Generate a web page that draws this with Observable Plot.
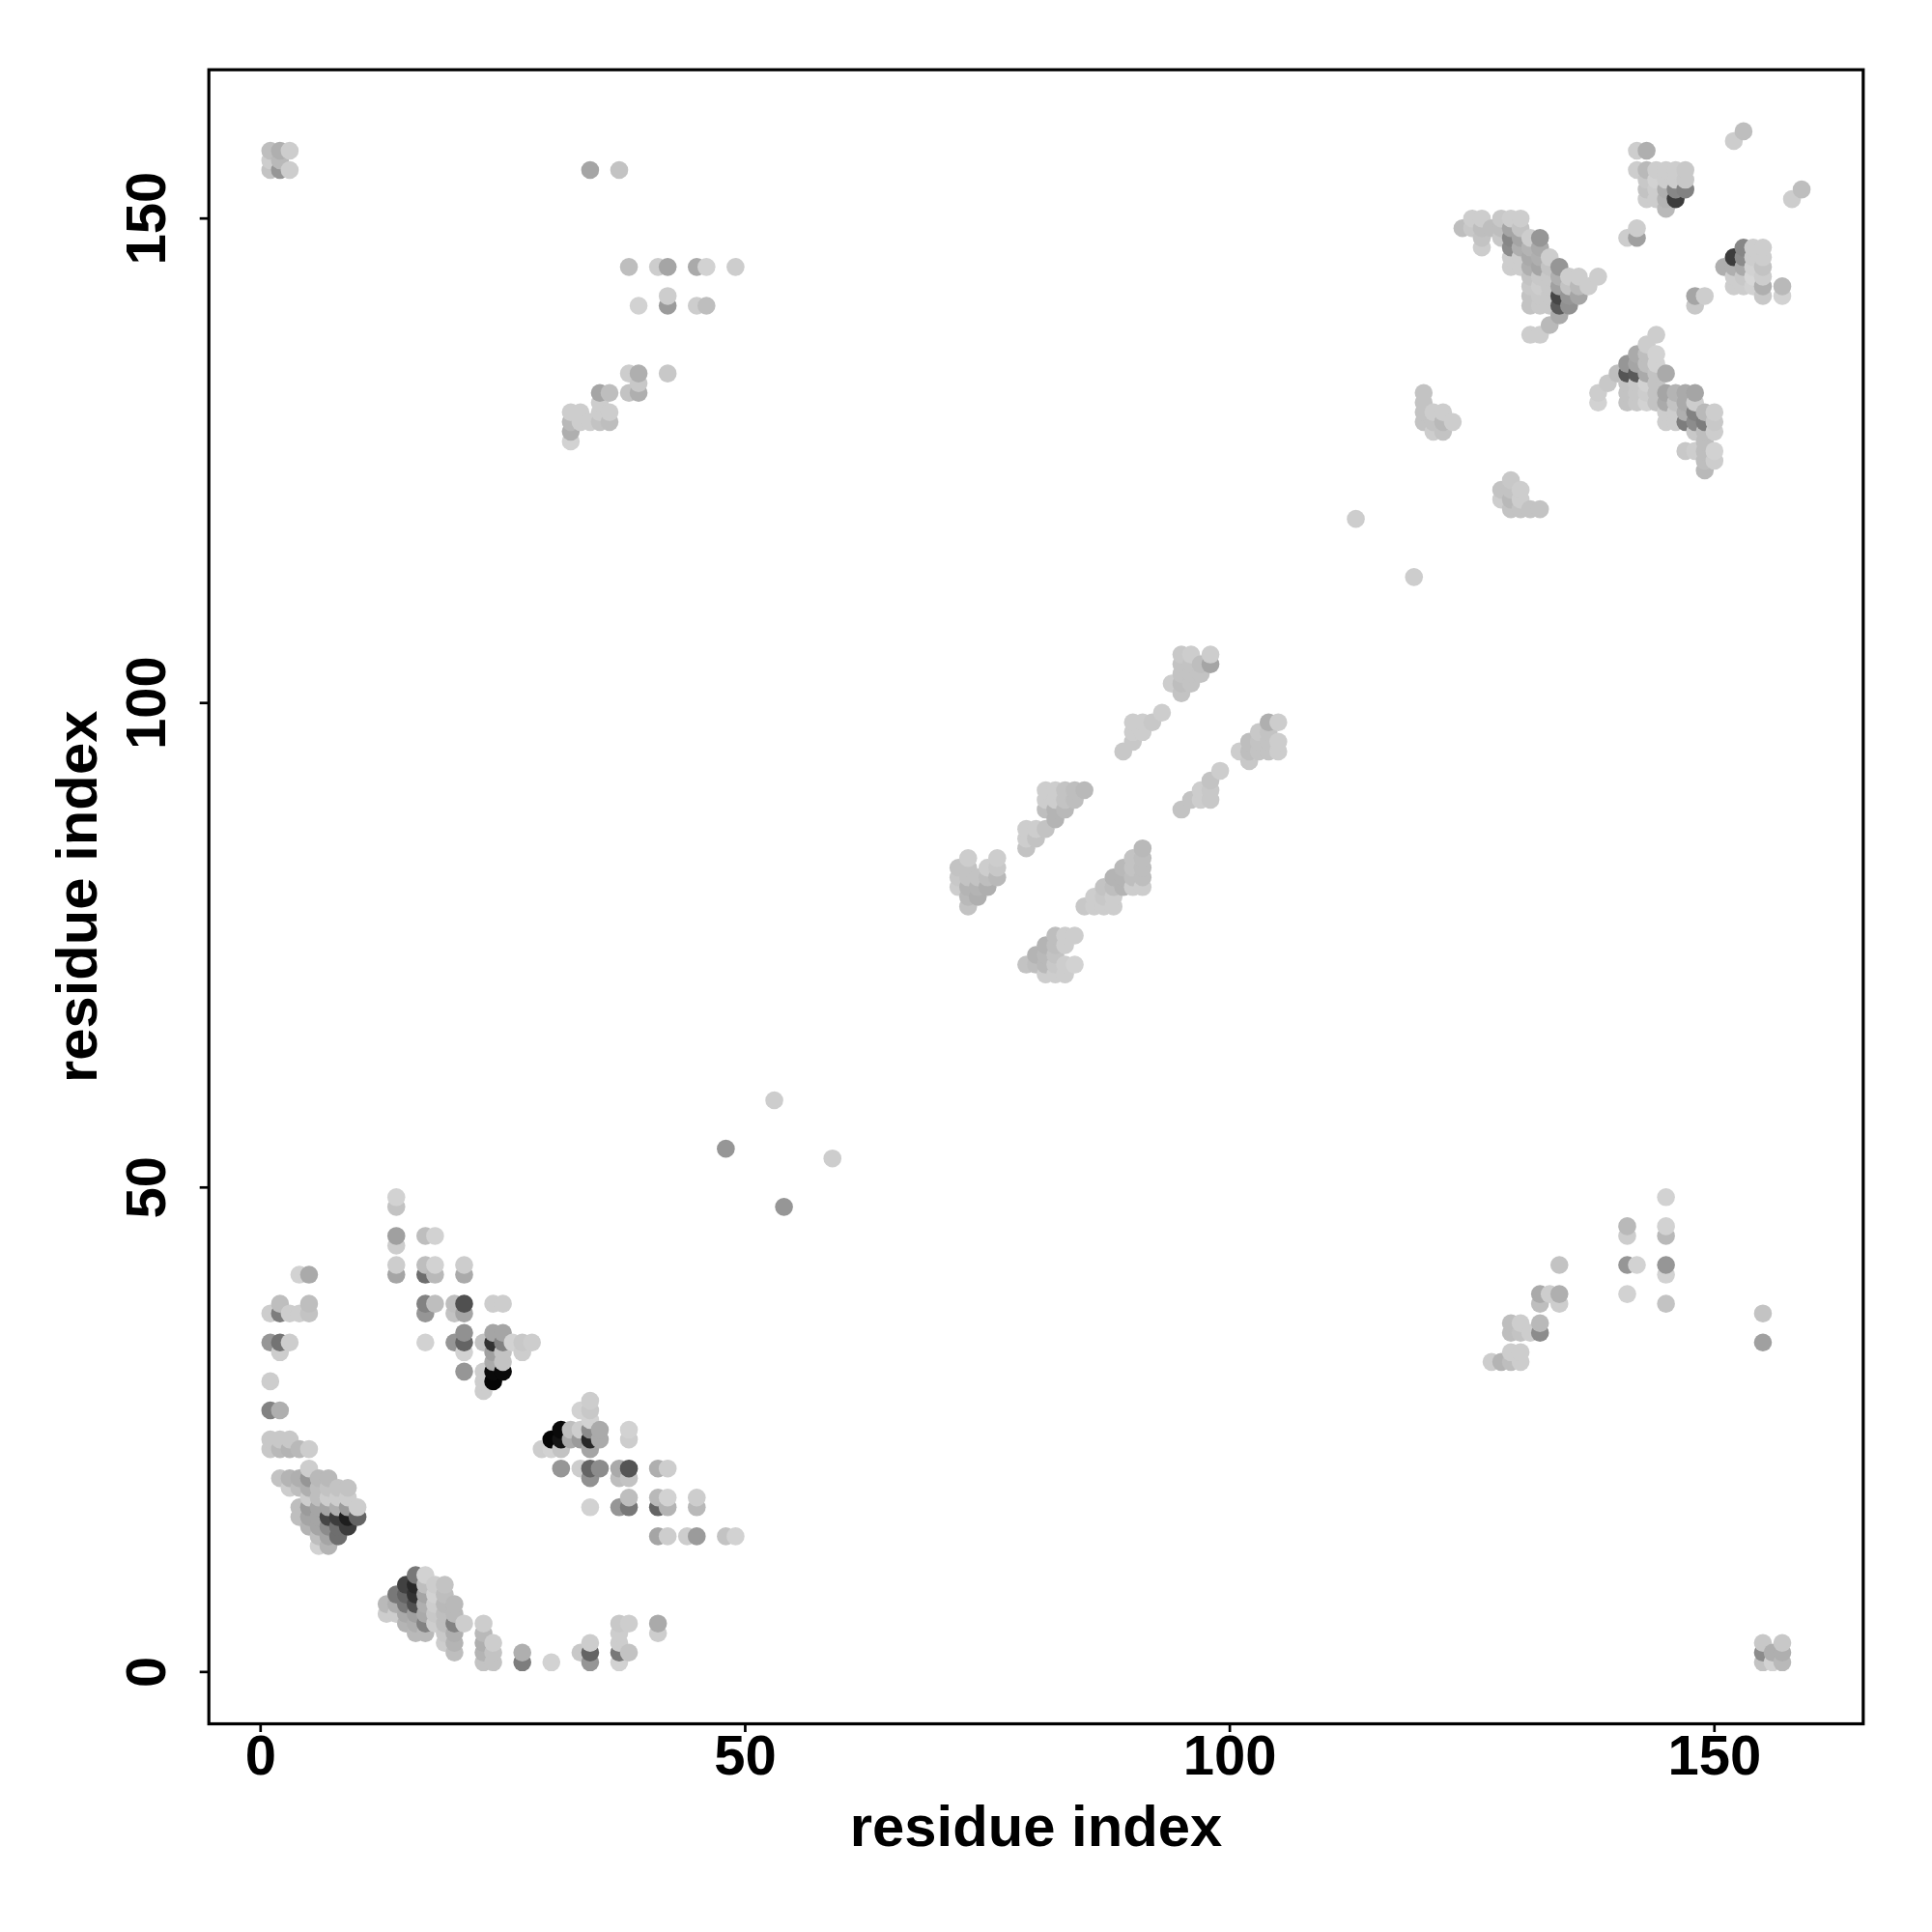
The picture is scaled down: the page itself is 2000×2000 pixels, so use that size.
<!DOCTYPE html>
<html><head><meta charset="utf-8">
<style>html,body{margin:0;padding:0;background:#fff}svg{display:block}</style>
<script src="https://cdn.jsdelivr.net/npm/d3@7"></script>
<script src="https://cdn.jsdelivr.net/npm/@observablehq/plot@0.6"></script>
</head><body>
<script>
// each triple: residue i, residue j, grey level
const cornerTL=[[1,157,190],[2,157,175],[3,157,205],[1,156,205],[2,156,185],[1,155,195],[2,155,150],[3,155,205]];
const leftArc=[[14,49,210],[14,48,195],[4,41,210],[5,41,170],[2,38,190],[5,38,190],[1,37,205],[2,37,125],[3,37,205],[4,37,205],[5,37,195],
[1,34,150],[2,34,115],[3,34,205],[2,33,205],[1,30,205],[1,27,130],[2,27,175],[1,24,200],[2,24,200],[3,24,200],
[1,23,200],[2,23,185],[3,23,180],[4,23,185],[5,23,205],[5,21,205],
[2,20,195],[3,20,180],[4,20,175],[5,20,150],[6,20,185],[7,20,185],
[3,19,205],[4,19,190],[5,19,175],[6,19,190],[7,19,195],[8,19,195],[9,19,195],
[5,18,205],[6,18,190],[7,18,205],[8,18,205],[9,18,205],
[4,17,190],[5,17,155],[6,17,165],[7,17,165],[8,17,175],[9,17,155],[10,17,205],
[4,16,190],[5,16,165],[6,16,165],[7,16,70],[8,16,60],[9,16,30],[10,16,100],
[5,15,180],[6,15,165],[7,15,140],[8,15,110],[9,15,60],[6,14,190],[7,14,165],[8,14,110],[6,13,210],[7,13,180]];
const upperBlock=[[14,45,160],[17,45,190],[18,45,210],[14,44,205],[14,42,205],[17,42,190],[18,42,210],[21,42,205],
[14,41,165],[17,41,110],[18,41,185],[21,41,170],
[17,38,130],[18,38,190],[20,38,190],[21,38,80],[24,38,205],[25,38,205],[17,37,150],[20,37,195],[21,37,165],
[17,34,210],[20,34,150],[21,35,145],[21,34,100],[24,35,165],[25,35,165],[23,34,195],[24,34,50],[25,34,130],[26,34,210],[27,34,200],[28,34,205],
[21,33,210],[24,33,160],[25,33,195],[27,33,205],[24,32,170],[25,32,195],[21,31,150],[23,31,205],[24,31,10],[25,31,10],[23,30,205],[24,30,5],[23,29,205]];
const midBlock=[[34,28,205],[33,27,210],[34,27,200],[34,26,210],
[31,25,10],[32,25,190],[33,25,205],[34,25,140],[35,25,170],[38,25,210],
[30,24,5],[31,24,20],[32,24,170],[33,24,155],[34,24,40],[35,24,170],[38,24,205],
[29,23,205],[30,23,210],[31,23,195],[34,23,165],
[31,21,150],[33,21,205],[34,21,100],[35,21,140],[37,21,170],[38,21,85],[41,21,175],[42,21,205],
[34,20,145],[37,20,190],[38,20,195],[38,18,190],[41,18,185],[42,18,210],[45,18,205],
[34,17,210],[37,17,150],[38,17,120],[41,17,100],[42,17,180],[45,17,185],
[41,14,165],[42,14,205],[44,14,205],[45,14,155],[48,14,195],[49,14,210]];
const lowerBlock=[[16,10,120],[17,10,210],[15,9,65],[16,9,40],[17,9,190],[18,9,205],[19,9,195],
[14,8,120],[15,8,100],[16,8,50],[17,8,165],[18,8,210],[19,8,190],
[13,7,185],[14,7,175],[15,7,120],[16,7,80],[17,7,175],[18,7,205],[19,7,185],[20,7,185],
[13,6,205],[14,6,205],[15,6,170],[16,6,160],[17,6,170],[18,6,200],[19,6,190],[20,6,185],
[15,5,180],[16,5,175],[17,5,130],[18,5,205],[19,5,190],[20,5,130],[21,5,205],[23,5,205],
[16,4,185],[17,4,185],[19,4,200],[20,4,175],[23,4,185],[19,3,205],[20,3,180],[23,3,175],[24,3,205],
[20,2,190],[23,2,180],[24,2,195],[23,1,195],[24,1,195],
[27,2,175],[27,1,125],[30,1,210],[33,2,200],[34,3,205],[34,2,100],[34,1,150],
[37,5,200],[38,5,205],[37,4,205],[37,3,205],[37,2,120],[38,2,195],[37,1,210],[41,5,170],[41,4,205]];
const isolated=[[48,54,150],[53,59,205],[54,48,150],[59,53,205],[113,119,205],[119,113,205]];
const topMiddle=[[34,155,165],[37,155,195],[38,145,190],[41,145,205],[42,145,165],[45,145,170],[46,145,210],[49,145,205],
[42,142,205],[39,141,210],[42,141,155],[45,141,205],[46,141,190],[38,134,205],[39,134,175],[42,134,200],[39,133,200],
[38,132,195],[39,132,175],[35,132,165],[36,132,190],[35,131,205],[32,130,205],[33,130,205],[35,130,205],[36,130,205],
[32,129,185],[33,129,205],[34,129,205],[35,129,195],[36,129,190],[32,128,175],[32,127,210]];
const topRight=[[153,159,190],[152,158,205],[142,157,205],[143,157,175],
[142,155,205],[143,155,185],[144,155,205],[145,155,205],[146,155,205],[147,155,200],
[143,154,200],[144,154,210],[145,154,205],[146,154,205],[147,154,200],
[143,153,195],[144,153,205],[145,153,175],[146,153,135],[147,153,130],[159,153,190],
[143,152,205],[144,152,205],[145,152,180],[146,152,60],[158,152,205],[145,151,185],
[125,150,205],[126,150,205],[128,150,200],[129,150,205],[130,150,205],
[124,149,190],[125,149,200],[126,149,190],[127,149,190],[128,149,190],[129,149,165],[130,149,195],[142,149,205],
[126,148,195],[128,148,200],[129,148,135],[130,148,165],[131,148,205],[132,148,150],[141,148,205],[142,148,160],
[126,147,205],[129,147,140],[130,147,175],[131,147,180],[132,147,170],
[129,146,205],[130,146,205],[131,146,170],[132,146,175],[133,146,205],
[129,145,205],[130,145,205],[131,145,175],[132,145,165],[133,145,195],[134,145,150],
[131,144,195],[132,144,200],[133,144,200],[134,144,175],[135,144,205],[136,144,205],[138,144,205],
[131,143,200],[132,143,205],[133,143,200],[134,143,160],[135,143,195],[136,143,185],[137,143,205],
[131,142,195],[132,142,200],[133,142,200],[134,142,70],[135,142,150],[136,142,165],
[131,141,195],[132,141,200],[133,141,200],[134,141,90],[135,141,145],[134,140,170],[133,139,185],[131,138,205],[132,138,205],
[148,142,165],[149,142,205],[148,141,200],
[153,147,135],[154,147,205],[155,147,205],[152,146,60],[153,146,140],[154,146,205],[155,146,205],
[151,145,175],[152,145,175],[153,145,170],[154,145,210],[155,145,195],
[152,144,205],[153,144,200],[154,144,215],[155,144,205],[152,143,205],[153,143,205],[154,143,210],[155,143,175],[157,143,185],[155,142,200],[157,142,210]];
const crossArm=[[144,138,205],[143,137,205],[142,136,170],[143,136,190],[144,136,210],[141,135,150],[142,135,165],[143,135,190],[144,135,210],
[140,134,190],[141,134,85],[142,134,90],[143,134,170],[144,134,195],[145,134,170],
[139,133,200],[141,133,195],[142,133,200],[143,133,210],[144,133,195],
[138,132,205],[141,132,195],[142,132,200],[143,132,205],[144,132,195],[145,132,165],[146,132,180],[147,132,170],[148,132,165],
[138,131,210],[141,131,195],[142,131,200],[143,131,210],[144,131,195],[145,131,170],[146,131,195],[147,131,170],[148,131,205],
[145,130,205],[146,130,205],[147,130,175],[148,130,130],[149,130,185],[150,130,205],
[145,129,205],[146,129,205],[147,129,125],[148,129,140],[149,129,125],[150,129,200],
[148,128,200],[149,128,190],[150,128,205],[149,127,190],[147,126,200],[148,126,205],[149,126,190],[150,126,210],[149,125,190],[150,125,205],[149,124,185]];
const smallClusters=[[120,132,195],[120,131,195],[120,130,195],[121,130,205],[122,130,205],[120,129,195],[121,129,195],[122,129,185],[123,129,205],[121,128,205],[122,128,195],
[129,123,200],[128,122,195],[129,122,195],[130,122,205],[128,121,205],[129,121,185],[130,121,205],[129,120,195],[130,120,195],[131,120,195],[132,120,195]];
const strandA=[[73,84,205],[76,84,205],[72,83,195],[73,83,195],[75,83,205],[76,83,200],[72,82,200],[73,82,195],[74,82,195],[75,82,190],[76,82,185],
[72,81,205],[73,81,180],[74,81,180],[75,81,175],[73,80,185],[74,80,175],[73,79,195],
[81,91,205],[82,91,205],[83,91,195],[84,91,190],[85,91,185],[81,90,205],[82,90,205],[83,90,195],[84,90,190],[81,89,190],[82,89,180],[83,89,185],[82,88,180],
[79,87,205],[80,87,205],[81,87,195],[79,86,205],[80,86,195],[79,85,195],
[95,105,200],[96,105,205],[98,105,205],[95,104,195],[96,104,195],[97,104,190],[98,104,165],[95,103,195],[96,103,195],[97,103,195],[94,102,205],[95,102,190],[96,102,195],[95,101,195],
[93,99,205],[90,98,205],[91,98,205],[92,98,200],[90,97,205],[91,97,205],[90,96,200],[89,95,200]];
const strandB=[[91,85,185],[90,84,195],[91,84,190],[89,83,185],[90,83,195],[91,83,190],[88,82,180],[89,82,180],[90,82,190],[91,82,190],
[87,81,195],[88,81,190],[89,81,180],[90,81,205],[91,81,205],[86,80,205],[87,80,200],[88,80,205],[85,79,200],[86,79,205],[87,79,205],[88,79,205],
[82,76,190],[83,76,205],[84,76,205],[81,75,180],[82,75,190],[83,75,205],[80,74,180],[81,74,185],[82,74,195],
[79,73,195],[80,73,190],[81,73,185],[82,73,200],[83,73,205],[84,73,210],[81,72,205],[82,72,205],[83,72,205],
[99,93,205],[98,92,195],[97,91,205],[98,91,200],[96,90,195],[97,90,205],[98,90,200],[95,89,195],
[104,98,175],[105,98,205],[103,97,200],[104,97,195],[102,96,190],[103,96,195],[104,96,195],[105,96,205],[101,95,205],[102,95,190],[103,95,195],[104,95,195],[105,95,205],[102,94,200]];
const bottomRight=[[145,49,210],[141,46,185],[145,46,210],[141,45,205],[145,45,185],[141,42,150],[142,42,210],[145,42,150],[134,42,195],[145,41,210],[141,39,210],[145,38,195],
[132,39,170],[133,39,205],[134,39,175],[132,38,190],[134,38,205],[129,36,190],[130,36,205],[132,36,185],[129,35,190],[130,35,195],[131,35,205],[132,35,140],
[129,33,205],[130,33,205],[127,32,205],[128,32,180],[129,32,190],[130,32,205],[155,37,195],[155,34,160],
[155,3,200],[157,3,200],[155,2,140],[156,2,175],[157,2,175],[155,1,195],[156,1,210],[157,1,185]];

const contacts=d3.sort(
  [cornerTL,leftArc,upperBlock,midBlock,lowerBlock,isolated,topMiddle,topRight,crossArm,smallClusters,strandA,strandB,bottomRight].flat()
    .map(([i,j,level])=>({i,j,level})),
  d=>d.i,d=>d.j);
const tickValues=[0,50,100,150];
const axisTitle="residue index";

const chart=Plot.plot({
  width:2000,height:2000,
  marginLeft:215.7,marginRight:71.7,marginTop:71.7,marginBottom:216,
  style:{fontFamily:"'Liberation Sans',Arial,sans-serif",fontWeight:"bold",background:"#fff",color:"#000"},
  x:{domain:[-5.34,165.35]},
  y:{domain:[-5.35,165.35]},
  color:{type:"linear",domain:[0,255],range:["#000","#fff"]},
  marks:[
    Plot.dot(contacts,{x:"i",y:"j",fill:"level",r:9.3,stroke:"none"}),
    Plot.frame({stroke:"#000",strokeWidth:3.2}),
    Plot.axisX({ticks:tickValues,tickSize:9,tickPadding:2,strokeWidth:2.7,fontSize:58,label:null}),
    Plot.axisY({ticks:tickValues,tickSize:9,tickPadding:36,strokeWidth:2.7,fontSize:58,tickRotate:-90,label:null}),
    Plot.text([axisTitle],{text:d=>d,frameAnchor:"bottom",dy:126,fontSize:59.8,fontWeight:"bold"}),
    Plot.text([axisTitle],{text:d=>d,frameAnchor:"left",textAnchor:"middle",dx:-135.7,rotate:-90,fontSize:59.8,fontWeight:"bold"})
  ]
});
document.body.appendChild(chart);
</script>
</body></html>
